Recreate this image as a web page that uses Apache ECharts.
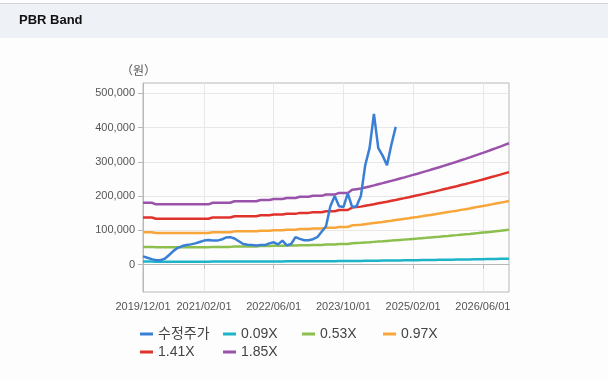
<!DOCTYPE html>
<html><head><meta charset="utf-8">
<script src="https://cdn.jsdelivr.net/npm/echarts@6/dist/echarts.min.js"></script>
<style>html,body{margin:0;padding:0;background:#fdfdfd;}#c{width:608px;height:381px;}</style>
</head><body><div id="c"></div>
<script>
const dates = [
'2019/12/01',
'2020/01/01','2020/02/01','2020/03/01','2020/04/01','2020/05/01','2020/06/01','2020/07/01','2020/08/01','2020/09/01','2020/10/01','2020/11/01','2020/12/01',
'2021/01/01','2021/02/01','2021/03/01','2021/04/01','2021/05/01','2021/06/01','2021/07/01','2021/08/01','2021/09/01','2021/10/01','2021/11/01','2021/12/01',
'2022/01/01','2022/02/01','2022/03/01','2022/04/01','2022/05/01','2022/06/01','2022/07/01','2022/08/01','2022/09/01','2022/10/01','2022/11/01','2022/12/01',
'2023/01/01','2023/02/01','2023/03/01','2023/04/01','2023/05/01','2023/06/01','2023/07/01','2023/08/01','2023/09/01','2023/10/01','2023/11/01','2023/12/01',
'2024/01/01','2024/02/01','2024/03/01','2024/04/01','2024/05/01','2024/06/01','2024/07/01','2024/08/01','2024/09/01','2024/10/01','2024/11/01','2024/12/01',
'2025/01/01','2025/02/01','2025/03/01','2025/04/01','2025/05/01','2025/06/01','2025/07/01','2025/08/01','2025/09/01','2025/10/01','2025/11/01','2025/12/01',
'2026/01/01','2026/02/01','2026/03/01','2026/04/01','2026/05/01','2026/06/01','2026/07/01','2026/08/01','2026/09/01','2026/10/01','2026/11/01','2026/12/01'
];
const xTickLabels = ['2019/12/01','2021/02/01','2022/06/01','2023/10/01','2025/02/01','2026/06/01'];
const yTickValues = [0,100000,200000,300000,400000,500000];
const seriesNames = ['수정주가','0.09X','0.53X','0.97X','1.41X','1.85X'];

const price = [
24000,20000,16000,13000,13000,17000,28000,40000,49000,54000,
57000,59000,62000,66000,70000,72000,70000,70000,73000,79000,
80000,76000,68000,60000,58000,57000,56000,57000,57000,62000,
65000,59000,70000,56000,60000,80000,75000,71000,71000,74000,
80000,96000,112000,170000,200000,170000,168000,208000,168000,170000,
200000,290000,340000,440000,340000,318000,290000,350000,402000
];
const band009 = [
8800,8800,8800,
8600,8600,8600,8600,8600,8600,8600,8600,8600,8600,8600,8600,8600,
8800,8800,8800,8800,8800,
9000,9000,9000,9000,9000,9000,
9200,9200,9200,9300,9300,9300,9500,9500,9500,9600,9600,9600,9800,9800,9800,9900,9900,9900,10200,10200,10200,
10600,10700,10800,
11000,11100,11300,11400,11600,11700,11900,12100,12200,12400,
12600,12700,12900,13100,13300,13500,13600,13800,14000,14200,
14400,14600,14800,15000,15200,15400,15600,15900,16100,16300,
16500,16800,17000,17200
];
const band053 = [
51700,51700,51700,
50400,50400,50400,50400,50400,50400,50400,50400,50400,50400,50400,50400,50400,
51700,51700,51700,51700,51700,
53000,53000,53000,53000,53000,53000,
54100,54100,54100,54900,54900,54900,55700,55700,55700,56700,56700,56700,57500,57500,57500,58600,58600,58600,59900,59900,59900,
62500,63100,63600,
64500,65300,66300,67200,68100,69100,70000,71000,72000,72900,
73900,75000,76000,77100,78100,79200,80300,81400,82600,83700,
84900,86000,87200,88400,89600,90900,92100,93400,94700,96000,
97400,98700,100100,101400
];
const band097 = [
94600,94600,94600,
92200,92200,92200,92200,92200,92200,92200,92200,92200,92200,92200,92200,92200,
94600,94600,94600,94600,94600,
97000,97000,97000,97000,97000,97000,
98900,98900,98900,100400,100400,100400,101900,101900,101900,103800,103800,103800,105200,105200,105200,107200,107200,107200,109600,109600,109600,
114500,115400,116400,
118000,119600,121300,123000,124600,126400,128100,129900,131700,133500,
135300,137300,139100,141000,143000,145000,147000,149000,151100,153200,
155300,157400,159700,161800,164000,166400,168600,170900,173300,175800,
178200,180600,183100,185700
];
const band141 = [
137500,137500,137500,
134000,134000,134000,134000,134000,134000,134000,134000,134000,134000,134000,134000,134000,
137500,137500,137500,137500,137500,
141000,141000,141000,141000,141000,141000,
143800,143800,143800,145900,145900,145900,148100,148100,148100,150900,150900,150900,153000,153000,153000,155800,155800,155800,159300,159300,159300,
166400,167800,169200,
171600,173900,176300,178800,181200,183700,186300,188800,191500,194000,
196700,199500,202200,205000,207800,210800,213600,216600,219700,222600,
225700,228800,232100,235200,238400,241800,245100,248400,252000,255500,
259000,262500,266200,269900
];
const band185 = [
180400,180400,180400,
175800,175800,175800,175800,175800,175800,175800,175800,175800,175800,175800,175800,175800,
180400,180400,180400,180400,180400,
185000,185000,185000,185000,185000,185000,
188700,188700,188700,191500,191500,191500,194300,194300,194300,198000,198000,198000,200700,200700,200700,204400,204400,204400,209100,209100,209100,
218300,220200,222000,
225100,228100,231300,234600,237700,241100,244400,247700,251200,254600,
258100,261800,265300,269000,272700,276600,280300,284200,288200,292100,
296200,300300,304500,308600,312800,317300,321500,326000,330600,335200,
339800,344500,349300,354100
];

const colors = ['#3a7fd6','#1db4c9','#8dbf4e','#f8a53a','#df322c','#9a52aa'];
const allData = [price, band009, band053, band097, band141, band185];
const FONT = '"Liberation Sans", Arial, "Noto Sans CJK KR", sans-serif';
const showTick = (idx, val) => xTickLabels.indexOf(val) >= 0;

const legendPos = [[140,326],[223,326],[302,326],[383,326],[140,344],[223,344]];

const chart = echarts.init(document.getElementById('c'), null, {renderer:'canvas'});
chart.setOption({
  animation: false,
  backgroundColor: '#fdfdfd',
  title: {text:'PBR Band', left:19, top:14, padding:0,
    textStyle:{fontSize:13, fontWeight:'bold', color:'#111', fontFamily:FONT}},
  graphic: [
    {type:'rect', left:0, top:3, z:-10, shape:{width:608, height:1}, style:{fill:'#d2d2d2'}},
    {type:'rect', left:0, top:4, z:-10, shape:{width:608, height:34}, style:{fill:'#eef2f7'}},
    {type:'text', left:121, top:64, style:{text:'（원）', fontSize:12, fill:'#555', fontFamily:'"Noto Sans CJK KR", sans-serif'}}
  ],
  legend: seriesNames.map((n, i) => ({
    data:[n], left:legendPos[i][0], top:legendPos[i][1], padding:0,
    icon:'rect', itemWidth:13, itemHeight:3, itemGap:0, selectedMode:false,
    textStyle:{fontSize:14, color:'#444', fontFamily:FONT, lineHeight:16}
  })),
  grid: {left:143, top:83, right:99, bottom:89, show:true, borderColor:'#b8b8b8', borderWidth:1},
  xAxis: {
    type:'category', data:dates, boundaryGap:false,
    axisLine:{lineStyle:{color:'#b8b8b8'}},
    axisTick:{interval:showTick, length:4, lineStyle:{color:'#b8b8b8'}},
    axisLabel:{interval:showTick, color:'#555', fontSize:11, fontFamily:FONT, margin:9, hideOverlap:false},
    splitLine:{show:true, interval:showTick, lineStyle:{color:'#e8e8e8'}}
  },
  yAxis: {
    type:'value', min:-80000, max:530000,
    axisLine:{show:true, lineStyle:{color:'#b8b8b8'}},
    axisTick:{show:true, customValues:yTickValues, length:5, lineStyle:{color:'#b8b8b8'}},
    axisLabel:{customValues:yTickValues, color:'#555', fontSize:11, fontFamily:FONT, margin:8,
      formatter: v => v.toLocaleString('en-US')},
    splitLine:{show:true, lineStyle:{color:'#e8e8e8'}}
  },
  series: seriesNames.map((n, i) => ({
    name:n, type:'line', data:allData[i], showSymbol:false, symbol:'none',
    z: i === 0 ? 5 : 2,
    lineStyle:{width:2.5, color:colors[i]}, itemStyle:{color:colors[i]},
    emphasis:{disabled:true}
  }))
});
</script></body></html>
